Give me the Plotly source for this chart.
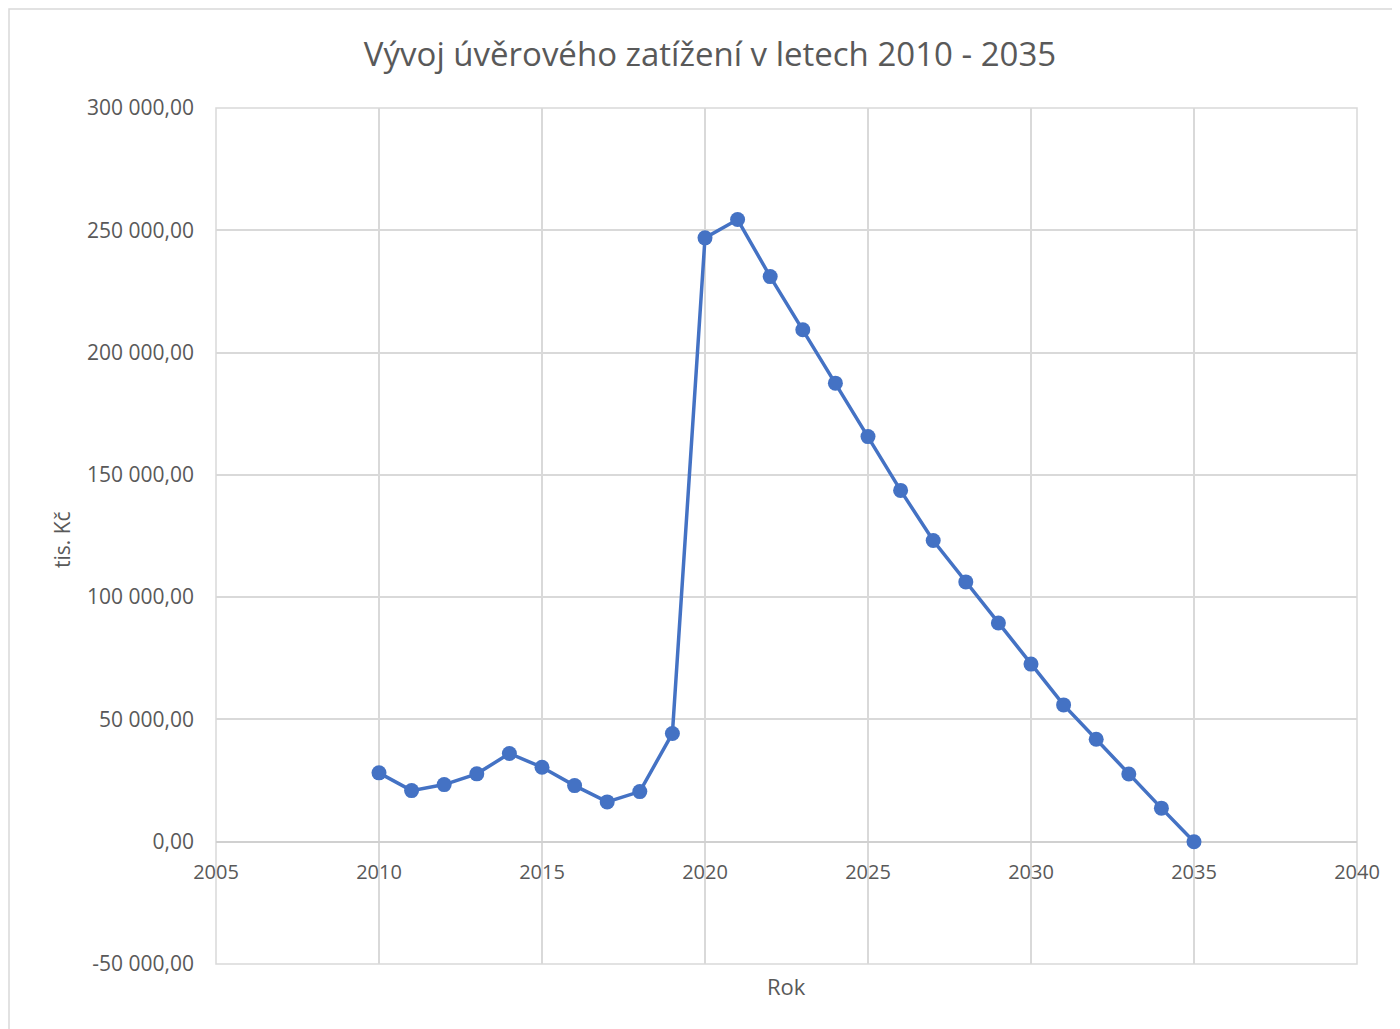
import plotly.graph_objects as go

years = list(range(2010, 2036))
values = [28150, 20900, 23360, 27750, 36070, 30450, 22950, 16270, 20490, 44260,
          246900, 254400, 231060, 209340, 187500, 165650, 143650, 123150, 106230,
          89430, 72620, 55940, 41880, 27660, 13730, 0]

y_tickvals = [-50000, 0, 50000, 100000, 150000, 200000, 250000, 300000]
y_ticktext = ["-50 000,00", "0,00", "50 000,00", "100 000,00", "150 000,00",
              "200 000,00", "250 000,00", "300 000,00"]
x_tickvals = [2005, 2010, 2015, 2020, 2025, 2030, 2035, 2040]

title_text = "Vývoj úvěrového zatížení v letech 2010 - 2035"
x_title = "Rok"
y_title = "tis. Kč"

FONT = "Open Sans"
GREY = "#595959"
GRID = "#d9d9d9"

OFF = 8  # page body margin
W, H = 1400 - OFF, 1029 - OFF
L, R, T, B = 216 - OFF, 43, 108 - OFF, 65
pw, ph = W - L - R, H - T - B

def px_x(x):  # page px -> paper x
    return (x - OFF - L) / pw

def px_y(y):  # page px -> paper y
    return (H - B - (y - OFF)) / ph

fig = go.Figure()
fig.add_trace(go.Scatter(
    x=years, y=values, mode="lines+markers",
    line=dict(color="#4472C4", width=3.5),
    marker=dict(color="#4472C4", size=15),
    showlegend=False,
))

fig.update_layout(
    width=W, height=H,
    margin=dict(l=L, r=R, t=T, b=B),
    paper_bgcolor="white", plot_bgcolor="white",
    font=dict(family=FONT, color=GREY, size=20),
    title=dict(text=title_text, xref="container", yref="container",
               x=(710 - OFF) / W, y=1 - (54 - OFF) / H,
               xanchor="center", yanchor="middle",
               font=dict(size=33, color=GREY, family=FONT)),
    xaxis=dict(range=[2005, 2040], tickvals=x_tickvals, showgrid=True,
               gridcolor=GRID, gridwidth=1.5, zeroline=False,
               anchor="free", position=1 / 7, showline=False,
               ticks="", ticklabelstandoff=16, tickfont=dict(size=20, color=GREY)),
    yaxis=dict(range=[-50000, 300000], tickvals=y_tickvals, ticktext=y_ticktext,
               showgrid=True, gridcolor=GRID, gridwidth=1.5,
               zeroline=True, zerolinecolor="#d0d0d0", zerolinewidth=2,
               showline=False, ticks="", ticklabelstandoff=21,
               tickfont=dict(size=21, color=GREY)),
)

fig.add_shape(type="rect", xref="paper", yref="paper", x0=0, x1=1, y0=0, y1=1,
              line=dict(color=GRID, width=1.5), layer="below")

fig.add_shape(type="rect", xref="paper", yref="paper",
              x0=px_x(9), x1=px_x(1420), y0=px_y(1050), y1=px_y(9),
              line=dict(color="#d9d9d9", width=1.5), fillcolor="rgba(0,0,0,0)")

fig.add_annotation(text=x_title, xref="paper", yref="paper",
                   x=px_x(786), y=px_y(986),
                   showarrow=False, font=dict(size=22, color=GREY),
                   xanchor="center", yanchor="middle")
fig.add_annotation(text=y_title, xref="paper", yref="paper",
                   x=px_x(62), y=px_y(540),
                   showarrow=False, textangle=-90, font=dict(size=21, color=GREY),
                   xanchor="center", yanchor="middle")

fig.write_html("out.html")
